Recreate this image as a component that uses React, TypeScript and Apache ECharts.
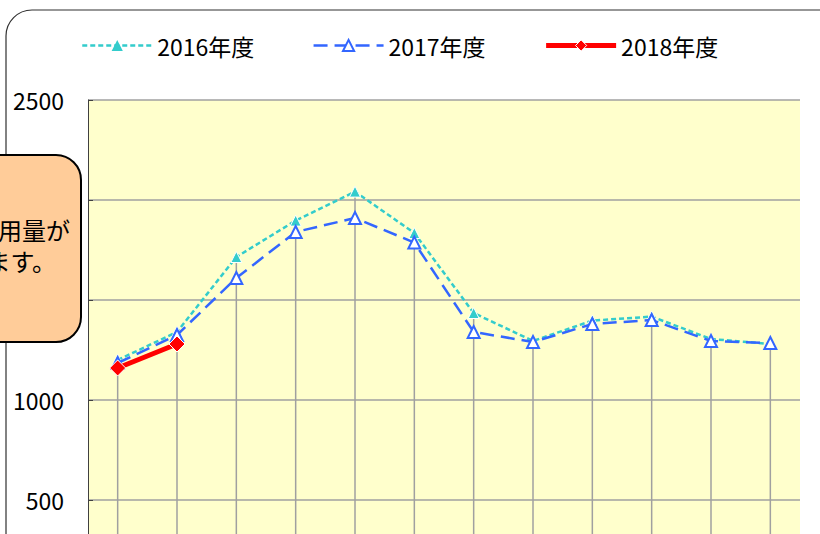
import React, { useEffect, useRef } from "react";
import * as echarts from "echarts";

const months = ["4月", "5月", "6月", "7月", "8月", "9月", "10月", "11月", "12月", "1月", "2月", "3月"];
const fy2016 = [1200, 1340, 1715, 1897, 2042, 1835, 1435, 1295, 1397, 1417, 1305, 1280];
const fy2017 = [1185, 1325, 1610, 1840, 1910, 1787, 1340, 1290, 1380, 1400, 1295, 1285];
const fy2018: (number | null)[] = [1160, 1280, null, null, null, null, null, null, null, null, null, null];
const yTicks = { min: 0, max: 2500, interval: 500 };
const calloutLines = ["用量が", "ます。"];

const FONT = '"Noto Sans CJK JP", "Noto Sans", sans-serif';

export default function App() {
  const ref = useRef<HTMLDivElement>(null);
  useEffect(() => {
    document.body.style.margin = "0";
    if (!ref.current) return;
    const chart = echarts.init(ref.current, undefined, { renderer: "svg" });
    const drop = months.map((_, i) =>
      Math.max(fy2016[i], fy2017[i], fy2018[i] == null ? -Infinity : (fy2018[i] as number))
    );
    chart.setOption({
      animation: false,
      backgroundColor: "#ffffff",
      textStyle: { fontFamily: FONT },
      legend: {
        left: 76,
        top: 29,
        itemGap: 58,
        itemWidth: 70,
        itemHeight: 14,
        textStyle: { fontSize: 23, color: "#000", fontFamily: FONT },
        data: [
          {
            name: "2016年度",
            lineStyle: { color: "#33CCCC", width: 2.5, type: [5, 3] },
            itemStyle: { color: "#33CCCC", borderColor: "#fff", borderWidth: 0 },
          },
          {
            name: "2017年度",
            lineStyle: { color: "#3366FF", width: 2.5, type: [14, 7] },
            itemStyle: { color: "#3366FF", borderWidth: 2 },
          },
          {
            name: "2018年度",
            lineStyle: { color: "#FF0000", width: 5 },
            itemStyle: { color: "#FF0000", borderColor: "#fff", borderWidth: 1 },
          },
        ],
      },
      grid: {
        left: 88,
        right: 20,
        top: 100,
        bottom: 20,
        show: true,
        backgroundColor: "#FFFFCC",
        borderWidth: 0,
      },
      xAxis: {
        type: "category",
        data: months,
        boundaryGap: true,
        axisLabel: { show: false },
        axisTick: { show: false },
        axisLine: { show: false },
        splitLine: { show: false },
      },
      yAxis: {
        type: "value",
        min: yTicks.min,
        max: yTicks.max,
        interval: yTicks.interval,
        axisLine: { show: true, lineStyle: { color: "#404040", width: 1 } },
        axisTick: { show: true, inside: true, length: 5, lineStyle: { color: "#404040" } },
        axisLabel: {
          fontSize: 23,
          color: "#000",
          margin: 24,
          fontFamily: FONT,
          showMinLabel: false,
          formatter: (v: number) => String(v),
        },
        splitLine: { lineStyle: { color: "#A0A0A0", width: 1.5 } },
      },
      series: [
        {
          name: "drop",
          type: "bar",
          data: drop,
          barWidth: 1.5,
          itemStyle: { color: "#A0A0A0" },
          silent: true,
          z: 1,
        },
        {
          name: "2016年度",
          type: "line",
          data: fy2016,
          symbol: "triangle",
          symbolSize: 11,
          lineStyle: { color: "#33CCCC", width: 2.5, type: [5, 3] },
          itemStyle: { color: "#33CCCC", borderColor: "#ffffff", borderWidth: 1 },
          z: 3,
        },
        {
          name: "2017年度",
          type: "line",
          data: fy2017,
          symbol: "emptyTriangle",
          symbolSize: 12,
          lineStyle: { color: "#3366FF", width: 2.5, type: [14, 7] },
          itemStyle: { color: "#3366FF", borderWidth: 2 },
          z: 4,
        },
        {
          name: "2018年度",
          type: "line",
          data: fy2018,
          symbol: "diamond",
          symbolSize: 16,
          lineStyle: { color: "#FF0000", width: 5 },
          itemStyle: { color: "#FF0000", borderColor: "#ffffff", borderWidth: 1 },
          z: 5,
        },
      ],
      graphic: [
        {
          type: "rect",
          shape: { x: 6, y: 10, width: 860, height: 700, r: 26 },
          style: { fill: "none", stroke: "#303030", lineWidth: 1.2 },
          z: 0,
          silent: true,
        },
        {
          type: "rect",
          z: 100,
          shape: { x: -120, y: 155, width: 201, height: 187, r: 25 },
          style: { fill: "#FFCC99", stroke: "#000000", lineWidth: 2 },
        },
        {
          type: "text",
          z: 101,
          x: 70,
          y: 229,
          style: {
            text: calloutLines[0],
            fontSize: 24,
            fontFamily: FONT,
            fill: "#000",
            align: "right",
            verticalAlign: "middle",
          },
        },
        {
          type: "text",
          z: 101,
          x: 56,
          y: 260,
          style: {
            text: calloutLines[1],
            fontSize: 24,
            fontFamily: FONT,
            fill: "#000",
            align: "right",
            verticalAlign: "middle",
          },
        },
      ],
    });
    return () => chart.dispose();
  }, []);
  return (
    <div style={{ width: 820, height: 534, overflow: "hidden", position: "relative" }}>
      <div ref={ref} style={{ width: 820, height: 620 }} />
    </div>
  );
}
